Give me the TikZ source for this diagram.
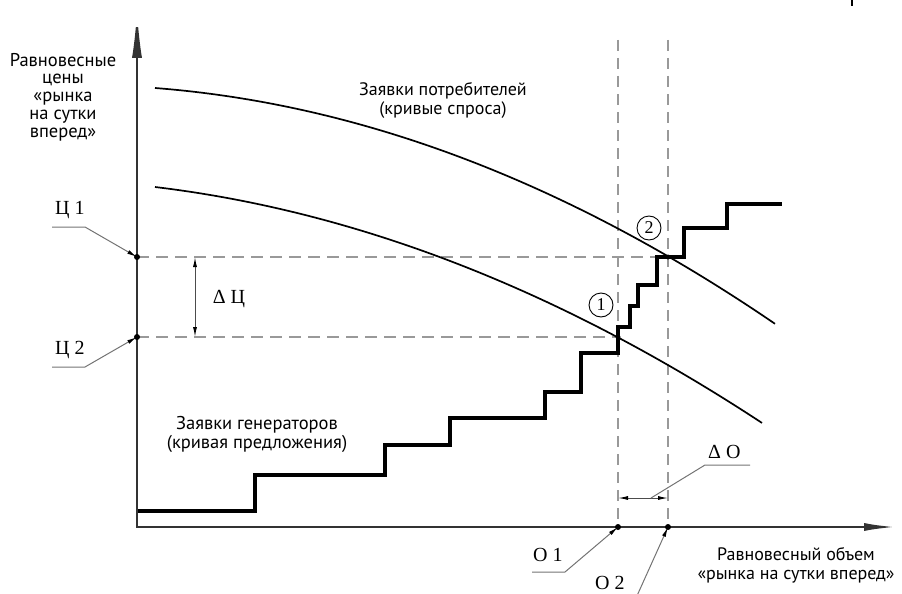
\documentclass[tikz,border=0pt]{standalone}
\usepackage{fontspec}
\setmainfont{Liberation Serif}
\newfontfamily\lblsans{PT Sans}
\usetikzlibrary{arrows.meta}
\begin{document}
\begin{tikzpicture}[x=1pt,y=-1pt,
 axis/.style={line width=2.4pt, draw=black!80, line join=miter},
 supply/.style={line width=3.2pt, line join=miter},
 demand/.style={line width=1.7pt},
 guide/.style={draw=black!40, line width=1.4pt, dash pattern=on 12pt off 7pt},
 vguide/.style={draw=black!40, line width=1.1pt, dash pattern=on 11pt off 7pt},
 leader/.style={draw=black!55, line width=1pt, -{Latex[length=10pt,width=4pt,color=black]}},
 plainleader/.style={draw=black!55, line width=1pt},
 dimarr/.style={draw=black!70, line width=1pt, {Latex[length=10pt,width=4pt,color=black]}-{Latex[length=10pt,width=4pt,color=black]}},
 sanslbl/.style={font=\lblsans\fontsize{18.5}{19}\selectfont, align=center, inner sep=0pt},
 seriflbl/.style={font=\fontsize{20}{21}\selectfont, inner sep=0pt},
 dotmark/.style={circle, fill=black, inner sep=0pt, minimum size=6pt},
 circnum/.style={circle, draw, line width=0.9pt, inner sep=0pt, minimum size=24pt, font=\fontsize{18}{18}\selectfont}
]
\useasboundingbox (0,0) rectangle (902,594);

% key points
\coordinate (O) at (137,527);
\coordinate (ytip) at (137,10);
\coordinate (xtip) at (896,527);
\coordinate (P1) at (137,257);
\coordinate (P2) at (137,337);
\coordinate (Q1) at (618,527);
\coordinate (Q2) at (668,527);
\coordinate (E1) at (618,337);
\coordinate (E2) at (668,257);
\coordinate (T1) at (618,40);
\coordinate (T2) at (668,40);

% guides
\draw[guide] (P1) -- (E2);
\draw[guide] (P2) -- (E1);
\draw[vguide] (T1) -- (Q1);
\draw[vguide] (T2) -- (Q2);

% demand curves
\draw[demand] plot[domain=0:620, samples=80] ({155+\x},{88+0.0776*\x+0.000491*\x*\x});
\draw[demand] plot[domain=0:607, samples=80] ({155+\x},{187+0.1201*\x+0.000440*\x*\x});

% supply step curve
\draw[supply] (137,511) -- (255,511) -- (255,475) -- (385,475) -- (385,445) -- (450,445) -- (450,418) -- (545,418) -- (545,392) -- (581,392) -- (581,353) -- (618,353) -- (618,327) -- (630,327) -- (630,306) -- (638,306) -- (638,285) -- (657,285) -- (657,257) -- (684,257) -- (684,228) -- (727,228) -- (727,204) -- (782,204);

% axes
\draw[axis, {Latex[length=48pt,width=10pt]}-{Latex[length=32pt,width=8pt]}] (ytip) -- (O) -- (xtip);

% dots
\node[dotmark] (d1) at (P1) {};
\node[dotmark] (d2) at (P2) {};
\node[dotmark] (d3) at (Q1) {};
\node[dotmark] (d4) at (Q2) {};
\node[dotmark, minimum size=5pt] (d5) at (E1) {};
\node[dotmark, minimum size=5pt] (d6) at (E2) {};

% price labels
\node[seriflbl, anchor=base west] (c1) at (55,214) {Ц 1};
\coordinate (c1a) at (52,227);
\coordinate (c1b) at (85,227);
\draw[leader] (c1a) -- (c1b) -- (P1);
\node[seriflbl, anchor=base west] (c2) at (55,354) {Ц 2};
\coordinate (c2a) at (52,367);
\coordinate (c2b) at (85,367);
\draw[leader] (c2a) -- (c2b) -- (P2);

% delta price
\coordinate (dp1) at (195,257);
\coordinate (dp2) at (195,337);
\draw[dimarr] (dp1) -- (dp2);
\node[seriflbl] (dpl) at (229,299) {Δ Ц};

% volume labels
\node[seriflbl, anchor=base west] (o1) at (533,561) {О 1};
\coordinate (o1a) at (532,572);
\coordinate (o1b) at (565,572);
\draw[leader] (o1a) -- (o1b) -- (Q1);
\node[seriflbl, anchor=base west] (o2) at (595,589) {О 2};
\coordinate (o2a) at (636,598);
\draw[leader] (o2a) -- (Q2);

% delta volume
\coordinate (dv1) at (618,498);
\coordinate (dv2) at (668,498);
\draw[dimarr] (dv1) -- (dv2);
\coordinate (dvm) at (651,498);
\coordinate (dva) at (705,465);
\coordinate (dvb) at (750,465);
\draw[plainleader] (dvm) -- (dva) -- (dvb);
\node[seriflbl, anchor=base west] (dvl) at (708,458) {Δ О};

% circled numbers
\node[circnum] (n1) at (601,305) {1};
\node[circnum] (n2) at (649,228) {2};

% text labels
\node[sanslbl, font=\lblsans\fontsize{18.5}{17.8}\selectfont] (ylab) at (63,97) {Равновесные\\цены\\«рынка\\на сутки\\вперед»};
\node[sanslbl, font=\lblsans\fontsize{18}{19}\selectfont] (dlab) at (443,100) {Заявки потребителей\\(кривые спроса)};
\node[sanslbl] (slab) at (257,434) {Заявки генераторов\\(кривая предложения)};
\node[sanslbl, font=\lblsans\fontsize{18}{19}\selectfont] (xlab) at (796,565) {Равновесный объем\\«рынка на сутки вперед»};

% stray tick at top
\coordinate (s1) at (852,0);
\coordinate (s2) at (852,6);
\draw[line width=1.5pt] (s1) -- (s2);
\end{tikzpicture}
\end{document}
